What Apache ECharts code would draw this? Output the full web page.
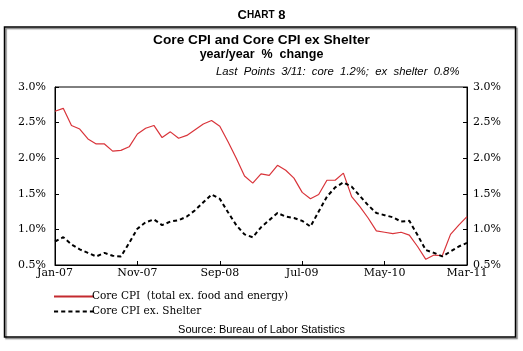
<!DOCTYPE html>
<html><head><meta charset="utf-8">
<script src="https://cdn.jsdelivr.net/npm/echarts@6/dist/echarts.min.js"></script>
<style>html,body{margin:0;padding:0;background:#fff}#c{width:523px;height:351px}</style>
</head><body><div id="c"></div>
<script>
var monthNames = ['Jan','Feb','Mar','Apr','May','Jun','Jul','Aug','Sep','Oct','Nov','Dec'];
var categories = [];
for (var y = 7; y <= 11; y++) for (var m = 0; m < 12; m++) {
  if (y === 11 && m > 2) break;
  categories.push(monthNames[m] + '-' + (y < 10 ? '0' + y : y));
}
var coreCPI = [2.66,2.70,2.46,2.41,2.27,2.20,2.20,2.10,2.11,2.16,2.34,2.42,2.46,
  2.29,2.37,2.28,2.32,2.40,2.48,2.53,2.45,2.23,2.00,1.75,1.65,1.78,1.76,1.90,1.83,1.72,
  1.52,1.43,1.49,1.69,1.69,1.79,1.46,1.32,1.16,0.98,0.96,0.94,0.96,0.92,0.76,0.58,0.64,0.63,0.93,1.06,1.18];
var coreExShelter = [0.83,0.89,0.79,0.72,0.67,0.62,0.67,0.63,0.62,0.81,1.01,1.10,1.14,
  1.06,1.11,1.13,1.18,1.27,1.38,1.49,1.43,1.24,1.06,0.93,0.89,1.03,1.13,1.23,1.18,1.16,
  1.12,1.04,1.25,1.46,1.59,1.66,1.60,1.47,1.34,1.23,1.20,1.17,1.11,1.12,0.92,0.71,0.67,0.62,0.69,0.76,0.81];
var seriesNames = ['Core CPI  (total ex. food and energy)', 'Core CPI ex. Shelter'];

var chart = echarts.init(document.getElementById('c'));
var serif = 'DejaVu Serif';
var yAxisBase = {
  type: 'value', min: 0.5, max: 3.0, interval: 0.5,
  axisLine: {show: true, lineStyle: {color: '#000', width: 1}},
  axisTick: {show: true, inside: true, length: 4, lineStyle: {color: '#000'}},
  splitLine: {show: false},
  axisLabel: {formatter: function(v){return v.toFixed(1) + '%';}, color: '#000', fontFamily: serif, fontSize: 11}
};
chart.setOption({
  animation: false,
  backgroundColor: '#fff',
  title: [
    {text: '{a|C}{b|HART}{a| 8}', left: 'center', top: 4,
     textStyle: {rich: {a: {fontFamily: 'Liberation Sans', fontWeight: 'bold', fontSize: 13, color: '#000'},
                        b: {fontFamily: 'Liberation Sans', fontWeight: 'bold', fontSize: 10, color: '#000'}}}},
    {text: 'Core CPI and Core CPI ex Shelter', left: 'center', top: 28,
     textStyle: {fontFamily: 'Liberation Sans', fontWeight: 'bold', fontSize: 13.7, color: '#000'}},
    {text: 'year/year  %  change', left: 'center', top: 43,
     textStyle: {fontFamily: 'Liberation Sans', fontWeight: 'bold', fontSize: 12.5, color: '#000'}},
    {text: 'Last  Points  3/11:  core  1.2%;  ex  shelter  0.8%', left: 211, top: 61,
     textStyle: {fontFamily: 'Liberation Sans', fontStyle: 'italic', fontWeight: 'normal', fontSize: 11.3, color: '#000'}},
    {text: 'Source: Bureau of Labor Statistics', left: 'center', top: 319,
     textStyle: {fontFamily: 'Liberation Sans', fontWeight: 'normal', fontSize: 11, color: '#000'}}
  ],
  graphic: [
    {type: 'rect', shape: {x: 4.5, y: 27, width: 511, height: 310}, z: -1,
     style: {fill: 'none', stroke: '#000', lineWidth: 1.5, shadowColor: 'rgba(0,0,0,0.5)', shadowOffsetX: 1.5, shadowOffsetY: 1.5, shadowBlur: 1}}
  ],
  legend: {
    orient: 'vertical', left: 49, top: 286, itemWidth: 40, itemHeight: 10, itemGap: 4,
    textStyle: {fontFamily: serif, fontSize: 10.5, color: '#000', padding: [0,0,0,-7]},
    data: [
      {name: seriesNames[0], icon: 'path://M0,0L40,0L40,2.2L0,2.2Z', itemStyle: {color: '#c42a2f'}},
      {name: seriesNames[1], icon: 'path://M0,0L4,0L4,2L0,2ZM7,0L11,0L11,2L7,2ZM14,0L18,0L18,2L14,2ZM21,0L25,0L25,2L21,2ZM28,0L32,0L32,2L28,2ZM35,0L39,0L39,2L35,2Z', itemStyle: {color: '#000'}}
    ]
  },
  grid: {left: 55, right: 56, top: 87, bottom: 86, show: true, borderColor: '#000', borderWidth: 1, backgroundColor: '#fff'},
  xAxis: {
    type: 'category', data: categories, boundaryGap: false,
    axisLine: {show: true, lineStyle: {color: '#000', width: 1}},
    axisTick: {show: true, inside: true, length: 4, interval: 9, lineStyle: {color: '#000'}},
    axisLabel: {interval: 9, color: '#000', fontFamily: serif, fontSize: 11, margin: 3},
    splitLine: {show: false}
  },
  yAxis: [
    Object.assign({}, yAxisBase, {position: 'left', axisLabel: Object.assign({}, yAxisBase.axisLabel, {margin: 9})}),
    Object.assign({}, yAxisBase, {position: 'right', axisLabel: Object.assign({}, yAxisBase.axisLabel, {margin: 6})})
  ],
  series: [
    {name: seriesNames[0], type: 'line', data: coreCPI, symbol: 'none', yAxisIndex: 0,
     lineStyle: {color: '#d9343a', width: 1.2}, itemStyle: {color: '#d9343a'}},
    {name: seriesNames[1], type: 'line', data: coreExShelter, symbol: 'none', yAxisIndex: 0,
     lineStyle: {color: '#000', width: 2, type: [4,3]}, itemStyle: {color: '#000'}}
  ]
});
</script></body></html>
